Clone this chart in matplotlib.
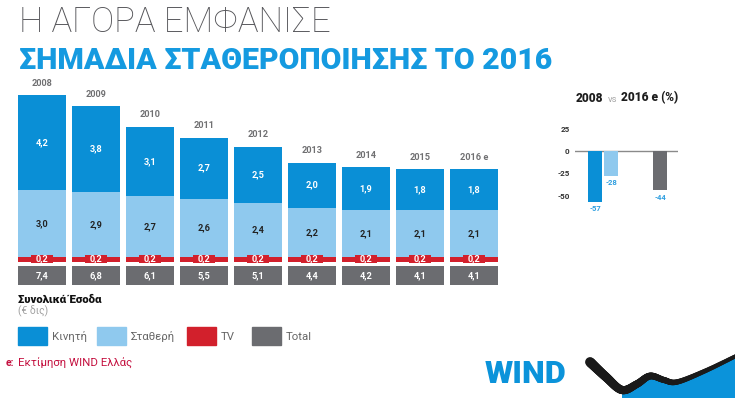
import numpy as np
import matplotlib
matplotlib.use("Agg")
import matplotlib.pyplot as plt
from matplotlib.patches import Rectangle, Polygon
from matplotlib.collections import LineCollection

# ---------------- data ----------------
years = ['2008', '2009', '2010', '2011', '2012', '2013', '2014', '2015', '2016 e']
mobile = [4.2, 3.8, 3.1, 2.7, 2.5, 2.0, 1.9, 1.8, 1.8]      # Κινητή
fixed = [3.0, 2.9, 2.7, 2.6, 2.4, 2.2, 2.1, 2.1, 2.1]        # Σταθερή
tv = [0.2, 0.2, 0.2, 0.2, 0.2, 0.2, 0.2, 0.2, 0.2]           # TV
total = [7.4, 6.8, 6.1, 5.5, 5.1, 4.4, 4.2, 4.1, 4.1]        # Total
series_names = ['Κινητή', 'Σταθερή', 'TV', 'Total']
change_pct = [-57, -28, 0, -44]                               # 2008 vs 2016 e (%)
change_ticks = [25, 0, -25, -50]

# ---------------- style ----------------
BLUE = '#0a8fd6'
LBLUE = '#8fc9ee'
RED = '#d2202c'
GRAY = '#6b6c70'
TITLE_BLUE = '#159ae0'
W, H = 735, 398
plt.rcParams['font.family'] = ['Roboto', 'DejaVu Sans']

fig = plt.figure(figsize=(W / 100, H / 100), dpi=100)
fig.patch.set_facecolor('white')


def px_axes(l, t, r, b, **kw):
    return fig.add_axes([l / W, 1 - b / H, (r - l) / W, (b - t) / H], **kw)


def fmt(v):
    return f"{v:.1f}".replace('.', ',')


# overlay axes in pixel coordinates for decorations/text
ov = px_axes(0, 0, W, H)
ov.set_xlim(0, W)
ov.set_ylim(H, 0)
ov.axis('off')

renderer = fig.canvas.get_renderer()


def fit_width(t, target):
    bb = t.get_window_extent(renderer)
    t.set_fontsize(t.get_fontsize() * target / bb.width)


# ---------------- titles ----------------
t1 = ov.text(19, 32, 'Η ΑΓΟΡΑ ΕΜΦΑΝΙΣΕ', fontsize=20, fontweight='light',
             color='#555559', va='baseline', ha='left')
fit_width(t1, 313)
t2 = ov.text(19, 69, 'ΣΗΜΑΔΙΑ ΣΤΑΘΕΡΟΠΟΙΗΣΗΣ ΤΟ 2016', fontsize=24, fontweight='heavy',
             color=TITLE_BLUE, va='baseline', ha='left')
fit_width(t2, 533)

# ---------------- main stacked bars ----------------
ax = px_axes(15, 70, 501, 290)
y0_px, scale = 261.5, 22.5
ax.set_xlim(-0.5, 8.5)
ax.set_ylim(-(290 - y0_px) / scale, (y0_px - 70) / scale)
ax.axis('off')

x = np.arange(len(years))
tv_a = np.array(tv)
fixed_a = np.array(fixed)
mobile_a = np.array(mobile)
bw = 0.89
ax.bar(x, tv_a, width=bw, color=RED, zorder=2)
ax.bar(x, fixed_a, bottom=tv_a, width=bw, color=LBLUE, zorder=2)
ax.bar(x, mobile_a, bottom=tv_a + fixed_a, width=bw, color=BLUE, zorder=2)

# total boxes below the bars
box_top, box_h = -0.2, 0.84
ax.bar(x, box_h, bottom=box_top - box_h, width=bw, color=GRAY, zorder=2)

# red label boxes for TV
ax.bar(x, 0.36, bottom=tv_a / 2 - 0.18 + 0.03, width=0.39, color=RED, zorder=3)

lab = dict(fontsize=6.6, fontweight='bold', ha='center', va='center', zorder=5)
for i in range(len(years)):
    ax.text(x[i], tv_a[i] + fixed_a[i] + mobile_a[i] / 2, fmt(mobile[i]), color='white', **lab)
    ax.text(x[i], tv_a[i] + fixed_a[i] / 2, fmt(fixed[i]), color='#222222', **lab)
    ax.text(x[i], tv_a[i] / 2 + 0.03, fmt(tv[i]), color='white', **lab)
    ax.text(x[i], box_top - box_h / 2, fmt(total[i]), color='white', **lab)
    ax.text(x[i], tv_a[i] + fixed_a[i] + mobile_a[i] + 0.53, years[i], color='#707072',
            fontsize=6.6, fontweight='bold', ha='center', va='center')

# ---------------- right small chart ----------------
rx = [0, 1, 2, 4]
rc = [BLUE, LBLUE, RED, GRAY]
ax2 = px_axes(575, 120, 678, 215)
ax2.set_xlim(-1.23, 5.11)
ax2.set_ylim(-71.7, 34.75)
ax2.bar(rx, change_pct, width=0.86, color=rc, zorder=2)
ax2.axhline(0, color='#8a8a8a', lw=1.0, zorder=1)
for s in ax2.spines.values():
    s.set_visible(False)
ax2.set_xticks([])
ax2.set_yticks(change_ticks)
ax2.set_yticklabels([str(t) for t in change_ticks], fontsize=5.8, fontweight='bold', color='#333333')
ax2.tick_params(axis='y', length=0, pad=4)
ax2.patch.set_alpha(0)
for xi, v in zip(rx, change_pct):
    if v != 0:
        ax2.annotate(str(v), (xi, v), xytext=(0, -2.5), textcoords='offset points',
                     ha='center', va='top', fontsize=5.5, fontweight='bold', color='#2f9fe0')

# title of right chart built piecewise
pieces = [('2008', dict(fontsize=8.6, fontweight='heavy', color='#1e1e1e'), 576),
          ('vs', dict(fontsize=6.8, fontweight='normal', color='#a8a8a8'), 608),
          ('2016 e (%)', dict(fontsize=8.6, fontweight='heavy', color='#1e1e1e'), 621)]
for txt, kw, xp in pieces:
    ov.text(xp, 101.5, txt, ha='left', va='baseline', **kw)

# ---------------- captions & legend ----------------
ov.text(18, 300, 'Συνολικά Έσοδα', fontsize=8.2, fontweight='heavy', color='#111111',
        ha='left', va='center')
ov.text(18, 311, '(€ δις)', fontsize=7.5, fontweight='normal', color='#a0a0a0',
        ha='left', va='center')

leg_x = [18, 97, 187, 252]
for name, col, lx in zip(series_names, [BLUE, LBLUE, RED, GRAY], leg_x):
    ov.add_patch(Rectangle((lx, 327), 29, 18, color=col))
    ov.text(lx + 34, 336.5, name, fontsize=8.2, fontweight='normal', color='#666666',
            ha='left', va='center')

ov.text(6, 363, 'e:', fontsize=7.5, fontweight='bold', color='#c4103f', ha='left', va='center')
ov.text(18, 363, 'Εκτίμηση WIND Ελλάς', fontsize=8.2, fontweight='normal', color='#c4103f',
        ha='left', va='center')

# ---------------- WIND logo ----------------
tw = ov.text(485, 383, 'WIND', fontsize=18, fontweight='heavy', color='#0b93da',
             ha='left', va='baseline')
fit_width(tw, 82)

ctrl = np.array([(590, 362), (606, 377), (622, 390), (637, 384), (650, 376),
                 (664, 380), (677, 382), (705, 371), (736, 356)], float)


def catmull(p, n=20):
    out = []
    P = np.vstack([p[0], p, p[-1]])
    for i in range(1, len(P) - 2):
        p0, p1, p2, p3 = P[i - 1], P[i], P[i + 1], P[i + 2]
        for t in np.linspace(0, 1, n, endpoint=False):
            t2, t3 = t * t, t * t * t
            out.append(0.5 * ((2 * p1) + (-p0 + p2) * t + (2 * p0 - 5 * p1 + 4 * p2 - p3) * t2
                              + (-p0 + 3 * p1 - 3 * p2 + p3) * t3))
    out.append(p[-1])
    return np.array(out)


curve = catmull(ctrl)
right = curve[curve[:, 0] >= 622]
poly = np.vstack([right, [[737, 399], [622, 399]]])
ov.add_patch(Polygon(poly, closed=True, color='#0b93da', lw=0, zorder=1))
segs = np.stack([curve[:-1], curve[1:]], axis=1)
widths = np.linspace(7.0, 2.8, len(segs))
lc = LineCollection(segs, linewidths=widths, colors='#1a1a1a', capstyle='round', zorder=2)
ov.add_collection(lc)

fig.savefig('out.png', dpi=100, facecolor='white')
